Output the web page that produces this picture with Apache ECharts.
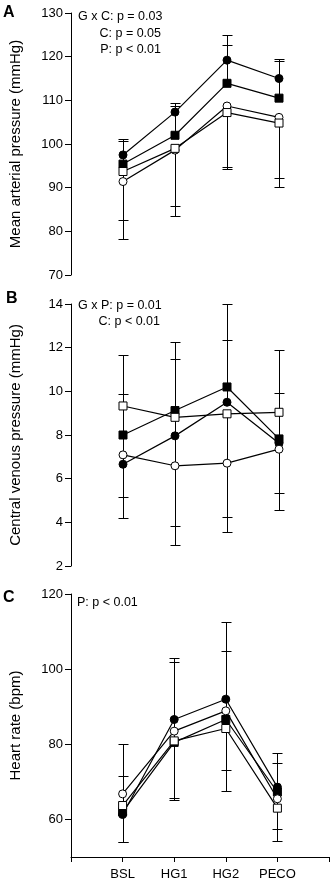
<!DOCTYPE html>
<html><head><meta charset="utf-8">
<script src="https://cdn.jsdelivr.net/npm/echarts@6/dist/echarts.min.js"></script>
<style>html,body{margin:0;padding:0;background:#fff}#c{width:332px;height:883px}</style>
</head><body><div id="c"></div>
<script>
const categories = ['BSL', 'HG1', 'HG2', 'PECO'];
const xPositions = [1, 2, 3, 4];

// Panel A: Mean arterial pressure (mmHg)
const mapFilledCircle = [97.5, 107.3, 119.2, 115.0];
const mapFilledSquare = [95.4, 102.0, 113.9, 110.5];
const mapOpenCircle = [91.4, 98.6, 108.7, 106.1];
const mapOpenSquare = [93.7, 99.0, 107.2, 104.8];
const mapFilledCircleErr = [101.1, 109.5, 125.0, 119.5];
const mapFilledSquareErr = [100.7, 108.8, 122.6, 119.1];
const mapOpenCircleErr = [78.2, 83.5, 94.2, 90.1];
const mapOpenSquareErr = [82.7, 85.9, 94.8, 92.2];

// Panel B: Central venous pressure (mmHg)
const cvpFilledCircle = [6.66, 7.96, 9.50, 7.62];
const cvpFilledSquare = [8.0, 9.12, 10.2, 7.82];
const cvpOpenCircle = [7.09, 6.59, 6.71, 7.35];
const cvpOpenSquare = [9.33, 8.81, 8.97, 9.04];
const cvpFilledCircleErr = [9.88, 11.47, 12.35, 9.91];
const cvpFilledSquareErr = [11.65, 12.25, 14.0, 11.9];
const cvpOpenCircleErr = [4.22, 2.97, 3.55, 4.57];
const cvpOpenSquareErr = [5.18, 3.85, 4.24, 5.34];

// Panel C: Heart rate (bpm)
const hrFilledCircle = [61.3, 86.6, 92.0, 68.6];
const hrFilledSquare = [62.0, 80.5, 86.6, 67.3];
const hrOpenCircle = [66.8, 83.5, 88.9, 65.5];
const hrOpenSquare = [63.7, 80.9, 84.2, 63.0];
const hrFilledCircleErr = [80.0, 102.85, 112.45, 77.7];
const hrFilledSquareErr = [71.6, 101.8, 104.9, 74.9];
const hrOpenCircleErr = [53.9, 65.1, 67.55, 54.2];
const hrOpenSquareErr = [54.0, 65.8, 73.1, 57.5];

const mapTicks = [70, 80, 90, 100, 110, 120, 130];
const cvpTicks = [2, 4, 6, 8, 10, 12, 14];
const hrTicks = [60, 80, 100, 120];

const FONT = "'Liberation Sans', Arial, sans-serif";

const panels = [
  {name: 'Mean arterial pressure (mmHg)', min: 70, max: 130, ticks: mapTicks,
   series: [[mapFilledCircle, mapFilledCircleErr, 'circle', true], [mapFilledSquare, mapFilledSquareErr, 'rect', true],
            [mapOpenCircle, mapOpenCircleErr, 'circle', false], [mapOpenSquare, mapOpenSquareErr, 'rect', false]]},
  {name: 'Central venous pressure (mmHg)', min: 2, max: 14, ticks: cvpTicks,
   series: [[cvpFilledCircle, cvpFilledCircleErr, 'circle', true], [cvpFilledSquare, cvpFilledSquareErr, 'rect', true],
            [cvpOpenCircle, cvpOpenCircleErr, 'circle', false], [cvpOpenSquare, cvpOpenSquareErr, 'rect', false]]},
  {name: 'Heart rate (bpm)', min: 50, max: 120, ticks: hrTicks,
   series: [[hrFilledCircle, hrFilledCircleErr, 'circle', true], [hrFilledSquare, hrFilledSquareErr, 'rect', true],
            [hrOpenCircle, hrOpenCircleErr, 'circle', false], [hrOpenSquare, hrOpenSquareErr, 'rect', false]]}
];

const grids = [
  {left: 67, top: 13, width: 264, height: 262},
  {left: 67, top: 304, width: 264, height: 262},
  {left: 67, top: 594, width: 264, height: 263}
];

function errRender(params, api) {
  const x = api.value(0), y0 = api.value(1), y1 = api.value(2);
  const p0 = api.coord([x, y0]), p1 = api.coord([x, y1]);
  const cx = Math.round(p0[0]) + 0.5;
  const cy = Math.round(p1[1]) + 0.5;
  return {type: 'group', children: [
    {type: 'line', shape: {x1: cx, y1: p0[1], x2: cx, y2: cy}, style: {stroke: '#000', lineWidth: 1}},
    {type: 'line', shape: {x1: cx - 5, y1: cy, x2: cx + 5, y2: cy}, style: {stroke: '#000', lineWidth: 1}}
  ]};
}

const xAxes = [], yAxes = [], series = [];
panels.forEach((p, i) => {
  const isLast = i === 2;
  xAxes.push({
    gridIndex: i, type: 'value', min: 0, max: 5, interval: 1,
    show: isLast,
    axisLine: {show: isLast, lineStyle: {color: '#000', width: 1}},
    axisTick: {show: isLast, length: 5, lineStyle: {color: '#000'}},
    axisLabel: {show: isLast, margin: 11, color: '#000', fontSize: 13, fontFamily: FONT,
      formatter: v => (v >= 1 && v <= 4) ? categories[v - 1] : ''},
    splitLine: {show: false}
  });
  yAxes.push({
    gridIndex: i, type: 'value', min: p.min, max: p.max,
    name: p.name, nameLocation: 'middle', nameGap: 48,
    nameTextStyle: {color: '#000', fontSize: 15, fontFamily: FONT},
    axisLine: {show: true, lineStyle: {color: '#000', width: 1}},
    axisTick: {show: true, length: 6, lineStyle: {color: '#000'}, customValues: p.ticks},
    axisLabel: {color: '#000', fontSize: 13, fontFamily: FONT, margin: 8, customValues: p.ticks},
    splitLine: {show: false}
  });
  p.series.forEach(([vals, errs]) => {
    series.push({
      type: 'custom', xAxisIndex: i, yAxisIndex: i, renderItem: errRender, silent: true,
      encode: {x: 0, y: [1, 2]}, clip: false, z: 1,
      data: xPositions.map((x, k) => [x, vals[k], errs[k]])
    });
  });
  p.series.forEach(([vals, errs, sym, filled]) => {
    series.push({
      type: 'line', xAxisIndex: i, yAxisIndex: i, symbol: sym, symbolSize: 8, showSymbol: true,
      silent: true, animation: false, z: 3,
      lineStyle: {color: '#000', width: 1.2},
      itemStyle: {color: filled ? '#000' : '#fff', borderColor: '#000', borderWidth: 1},
      data: xPositions.map((x, k) => [x, vals[k]])
    });
  });
});

const txt = (x, y, text, opts = {}) => ({
  type: 'text', x, y,
  style: Object.assign({text, fill: '#000', font: '12.5px ' + FONT, textVerticalAlign: 'middle'}, opts)
});

const chart = echarts.init(document.getElementById('c'), null, {renderer: 'canvas'});
chart.setOption({
  animation: false,
  grid: grids,
  xAxis: xAxes,
  yAxis: yAxes,
  series: series,
  graphic: [
    txt(3, 13, 'A', {font: 'bold 16px ' + FONT}),
    txt(6, 299, 'B', {font: 'bold 16px ' + FONT}),
    txt(3, 598, 'C', {font: 'bold 16px ' + FONT}),
    txt(78, 17, 'G x C: p = 0.03'),
    txt(161, 34, 'C: p = 0.05', {textAlign: 'right'}),
    txt(161, 50, 'P: p < 0.01', {textAlign: 'right'}),
    txt(78, 306, 'G x P: p = 0.01'),
    txt(160, 322, 'C: p < 0.01', {textAlign: 'right'}),
    txt(77, 603, 'P: p < 0.01')
  ]
});
</script></body></html>
